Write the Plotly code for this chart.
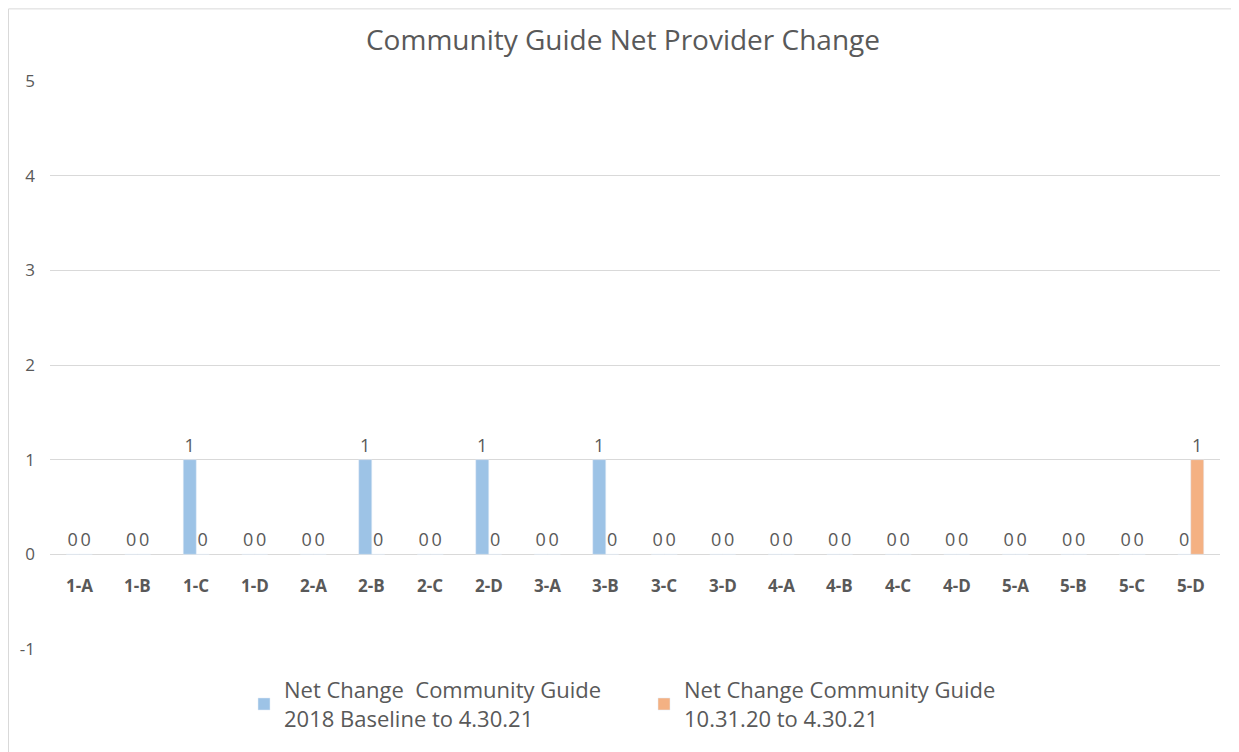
import plotly.graph_objects as go

categories = ["1-A","1-B","1-C","1-D","2-A","2-B","2-C","2-D","3-A","3-B",
              "3-C","3-D","4-A","4-B","4-C","4-D","5-A","5-B","5-C","5-D"]
baseline_2018 = [0,0,1,0,0,1,0,1,0,1,0,0,0,0,0,0,0,0,0,0]
since_oct_2020 = [0,0,0,0,0,0,0,0,0,0,0,0,0,0,0,0,0,0,0,1]
series_names = ["Net Change  Community Guide<br>2018 Baseline to 4.30.21",
                "Net Change Community Guide<br>10.31.20 to 4.30.21"]
y_ticks = [-1, 0, 1, 2, 3, 4, 5]
y_tick_labels = ["-1", "0", "1", "2", "3", "4", "5"]

font_family = "Open Sans, Liberation Sans, sans-serif"
gray = "#595959"

# page body has an 8px margin; figure is sized to fill the remaining window
W, H = 1231, 744
ml, mr, mt, mb = 42, 19, 73, 100
pw, ph = W - ml - mr, H - mt - mb

label_font = dict(size=18, color=gray, family=font_family)

fig = go.Figure()
fig.add_trace(go.Bar(x=categories, y=baseline_2018, name=series_names[0],
                     marker_color="#9dc3e6", text=baseline_2018, textposition="outside",
                     constraintext="none", textfont=label_font, outsidetextfont=label_font,
                     cliponaxis=False))
fig.add_trace(go.Bar(x=categories, y=since_oct_2020, name=series_names[1],
                     marker_color="#f4b183", text=since_oct_2020, textposition="outside",
                     constraintext="none", textfont=label_font, outsidetextfont=label_font,
                     cliponaxis=False))

annotations = [dict(x=c, y=0, xref="x", yref="y", text=f"<b>{c}</b>", showarrow=False,
                    yshift=-31, yanchor="middle",
                    font=dict(size=17, color=gray, family=font_family))
               for c in categories]

fig.update_layout(
    width=W, height=H,
    paper_bgcolor="white", plot_bgcolor="white",
    margin=dict(l=ml, r=mr, t=mt, b=mb),
    barmode="group", bargap=0.556, bargroupgap=0,
    title=dict(text="Community Guide Net Provider Change", xref="paper",
               x=(615 - ml) / pw, xanchor="center",
               y=1 - 32 / H, yanchor="middle",
               font=dict(size=28, color=gray, family=font_family)),
    legend=dict(orientation="h", x=(236 - ml) / pw, xanchor="left",
                y=-(664 - (H - mb)) / ph, yanchor="top",
                font=dict(size=22, color=gray, family=font_family),
                traceorder="normal", itemwidth=30, entrywidth=355),
    annotations=annotations,
    shapes=[dict(type="rect", xref="paper", yref="paper",
                 x0=(0.5 - ml) / pw, x1=(1229 - ml) / pw,
                 y0=-2, y1=1 + (mt - 0.5) / ph,
                 line=dict(color="#d9d9d9", width=1), fillcolor="rgba(0,0,0,0)",
                 layer="below")],
)
fig.update_xaxes(showgrid=False, showline=False, zeroline=False, showticklabels=False)
fig.update_yaxes(range=[-1, 5], tickvals=y_ticks, ticktext=y_tick_labels,
                 showgrid=True, gridcolor="#d9d9d9",
                 zeroline=True, zerolinecolor="#d9d9d9", zerolinewidth=1,
                 tickfont=dict(size=17, color=gray, family=font_family),
                 ticklabelstandoff=14)

fig.write_html("out.html")
